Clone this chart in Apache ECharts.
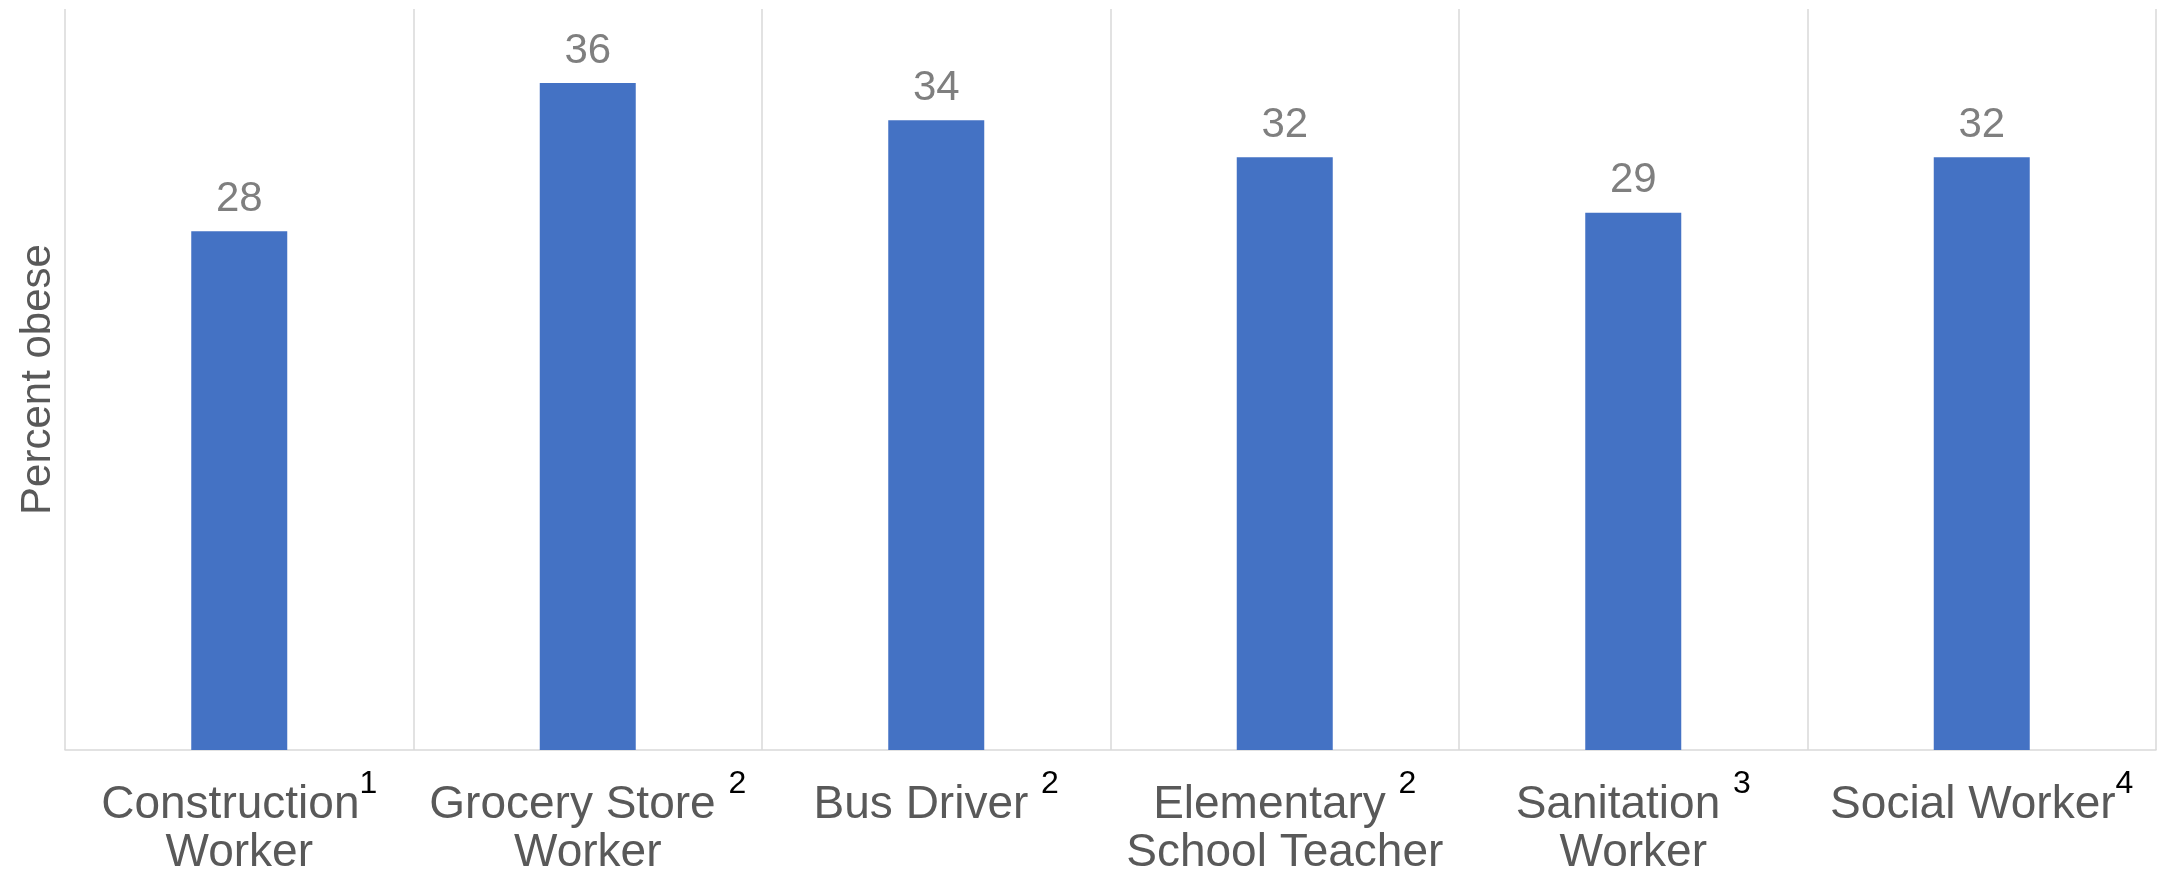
<!DOCTYPE html>
<html>
<head>
<meta charset="utf-8">
<script src="https://cdn.jsdelivr.net/npm/echarts@6/dist/echarts.min.js"></script>
<style>
  html, body { margin: 0; padding: 0; background: #ffffff; }
  #chart { width: 2181px; height: 875px; }
</style>
</head>
<body>
<div id="chart"></div>
<script>
// Occupations shown along the x-axis
const categories = ['Construction Worker', 'Grocery Store Worker', 'Bus Driver', 'Elementary School Teacher', 'Sanitation Worker', 'Social Worker'];
// Label text split into the first and second line, plus the footnote marker
const labelLine1 = ['Construction', 'Grocery Store ', 'Bus Driver ', 'Elementary ', 'Sanitation ', 'Social Worker'];
const labelLine2 = ['Worker', 'Worker', '', 'School Teacher', 'Worker', ''];
const footnotes = ['1', '2', '2', '2', '3', '4'];
// Percent obese by occupation
const percentObese = [28, 36, 34, 32, 29, 32];

const FONT = "'Liberation Sans', Arial, Helvetica, sans-serif";

const chart = echarts.init(document.getElementById('chart'), null, { renderer: 'canvas' });

chart.setOption({
  animation: false,
  backgroundColor: '#ffffff',
  textStyle: { fontFamily: FONT },
  grid: { left: 65, right: 25, top: 9, bottom: 125, outerBoundsMode: 'none' },
  xAxis: {
    type: 'category',
    data: categories,
    boundaryGap: true,
    axisLine: { show: true, lineStyle: { color: '#d9d9d9', width: 1.5 } },
    axisTick: { show: false },
    splitLine: { show: true, lineStyle: { color: '#d9d9d9', width: 1.5 } },
    axisLabel: {
      interval: 0,
      margin: 18,
      formatter: function (value, idx) {
        // first line carries the footnote marker as a raised superscript
        let s = '{first|' + labelLine1[idx] + '}{sup|' + footnotes[idx] + '}';
        if (labelLine2[idx]) s += '\n{second|' + labelLine2[idx] + '}';
        return s;
      },
      rich: {
        first: { fontSize: 46, color: '#595959', lineHeight: 60, verticalAlign: 'bottom', fontFamily: FONT },
        second: { fontSize: 46, color: '#595959', lineHeight: 51, fontFamily: FONT },
        sup: { fontSize: 32, color: '#000000', lineHeight: 30, verticalAlign: 'top', fontFamily: FONT }
      }
    }
  },
  yAxis: {
    type: 'value',
    min: 0,
    max: 40,
    axisLine: { show: false },
    axisTick: { show: false },
    axisLabel: { show: false },
    splitLine: { show: false },
    name: 'Percent obese',
    nameLocation: 'middle',
    nameGap: 6,
    nameTextStyle: { fontSize: 42, color: '#595959', fontFamily: FONT }
  },
  series: [{
    type: 'bar',
    data: percentObese,
    barWidth: 96,
    itemStyle: { color: '#4472c4' },
    label: {
      show: true,
      position: 'top',
      distance: 11,
      fontSize: 42,
      color: '#7f7f7f',
      fontFamily: FONT
    }
  }]
});
</script>
</body>
</html>
